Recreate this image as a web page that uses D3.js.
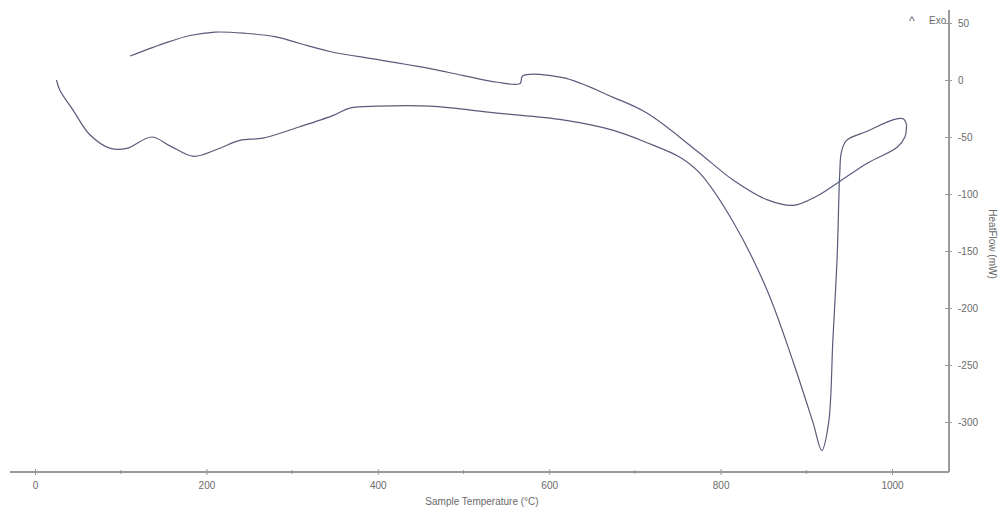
<!DOCTYPE html>
<html><head><meta charset="utf-8">
<script src="https://cdn.jsdelivr.net/npm/d3@7"></script>
<style>body{margin:0;background:#fff}svg{display:block}text{font-family:"Liberation Sans",Arial,sans-serif}</style>
</head><body><svg id="c" width="1008" height="513"></svg>
<script>
const heatT  = [25, 29, 44, 64, 88, 107, 136, 158, 185, 212, 239, 266, 309, 348, 368, 400, 461, 539, 616, 674, 714, 753, 776, 815, 854, 885, 908, 918, 926, 931, 936, 939, 941, 947, 971, 1001, 1013, 1017];
const heatHF = [0, -9, -26, -48, -60, -60, -50, -58, -67, -61, -53, -51, -41, -31, -24.5, -23, -23, -29, -35, -44, -55, -68, -82, -125, -184, -248, -301, -325, -301, -228, -155, -82, -63, -53, -45, -35, -34, -39];
const coolT  = [1017, 1015, 1006, 971, 939, 912, 885, 854, 815, 772, 714, 674, 616, 569, 566, 539, 499, 461, 403, 344, 309, 280, 245, 210, 181, 154, 111];
const coolHF = [-39, -50, -59, -73, -89, -102, -110, -105, -88, -62, -29, -15, 2, 3.5, -3, -2, 4, 10, 17.5, 25, 32, 38, 41, 42, 39, 33, 21];
const xMajor = [0, 200, 400, 600, 800, 1000];
const xMinor = [100, 300, 500, 700, 900];
const yTicks = [50, 0, -50, -100, -150, -200, -250, -300];

const svg = d3.select("#c");
const x = d3.scaleLinear().domain([-29.2, 1066.5]).range([10, 949]);
const y = d3.scaleLinear().domain([-343.9, 61.4]).range([472, 10]);
const axisCol = "#9a9a9a", txtCol = "#6a6a6a";
const fmt = d => String(d);

const xa = svg.append("g").attr("transform", `translate(0,${y.range()[0]})`)
  .call(d3.axisBottom(x).tickValues(xMajor).tickSize(4).tickPadding(6).tickFormat(fmt));
xa.select(".domain").attr("stroke", axisCol).attr("stroke-width", 2).attr("d", `M10,0H949`);
xa.selectAll(".tick line").attr("stroke", axisCol).attr("y2", -3).attr("y1", 3);
xa.selectAll(".tick text").attr("fill", txtCol).attr("font-size", 10).attr("font-family", "Liberation Sans, Arial, sans-serif");
svg.append("g").selectAll("line").data(xMinor).join("line")
  .attr("x1", d => x(d)).attr("x2", d => x(d)).attr("y1", y.range()[0] - 2).attr("y2", y.range()[0] + 2)
  .attr("stroke", axisCol);

const ya = svg.append("g").attr("transform", `translate(${x.range()[1]},0)`)
  .call(d3.axisRight(y).tickValues(yTicks).tickSize(4).tickPadding(5).tickFormat(fmt));
ya.select(".domain").attr("stroke", axisCol).attr("stroke-width", 2).attr("d", `M0,10V472`);
ya.selectAll(".tick line").attr("stroke", axisCol).attr("x1", -4).attr("x2", 3);
ya.selectAll(".tick text").attr("fill", txtCol).attr("font-size", 10).attr("font-family", "Liberation Sans, Arial, sans-serif");

svg.append("text").attr("x", 482).attr("y", 505).attr("text-anchor", "middle")
  .attr("font-size", 10).attr("fill", txtCol).text("Sample Temperature (°C)");
svg.append("text").attr("transform", "translate(989,244) rotate(90)").attr("text-anchor", "middle")
  .attr("font-size", 10).attr("fill", txtCol).text("HeatFlow (mW)");
svg.append("text").attr("x", 909).attr("y", 25).attr("font-size", 12).attr("fill", txtCol).text("^");
svg.append("text").attr("x", 929).attr("y", 24).attr("font-size", 10).attr("fill", txtCol).text("Exo");

const line = d3.line().x(d => x(d[0])).y(d => y(d[1])).curve(d3.curveCatmullRom.alpha(0.5));
const heat = heatT.map((t, i) => [t, heatHF[i]]);
const cool = coolT.map((t, i) => [t, coolHF[i]]);
svg.append("path").attr("d", line(heat)).attr("fill", "none").attr("stroke", "#585c7a").attr("stroke-width", 1.2);
svg.append("path").attr("d", line(cool)).attr("fill", "none").attr("stroke", "#585c7a").attr("stroke-width", 1.2);
</script></body></html>
